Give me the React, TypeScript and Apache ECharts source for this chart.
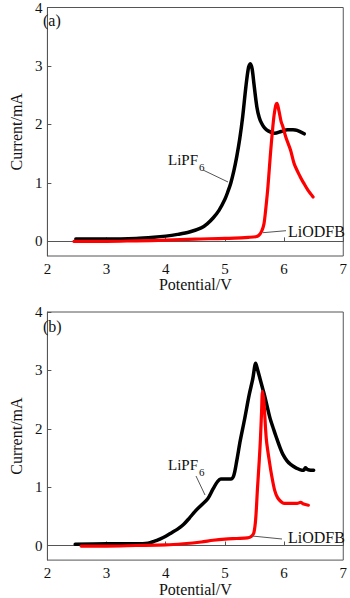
import React, { useEffect, useRef } from "react";
import * as echarts from "echarts";

// Panel (a): [Potential/V, Current/mA]
const aLiPF6: [number, number][] = [
  [2.48, 0.04], [3.0, 0.04], [3.5, 0.05], [3.8, 0.07], [4.0, 0.09], [4.2, 0.12], [4.4, 0.16],
  [4.6, 0.23], [4.7, 0.3], [4.8, 0.4], [4.9, 0.53], [5.0, 0.72], [5.05, 0.85], [5.1, 1.0],
  [5.15, 1.2], [5.2, 1.45], [5.25, 1.75], [5.3, 2.13], [5.355, 2.65], [5.4, 2.98], [5.43, 3.04],
  [5.46, 2.95], [5.49, 2.7], [5.54, 2.3], [5.58, 2.12], [5.62, 2.02], [5.67, 1.94], [5.73, 1.89],
  [5.84, 1.85], [5.95, 1.88], [6.06, 1.91], [6.15, 1.91], [6.22, 1.9], [6.34, 1.84],
];
const aLiODFB: [number, number][] = [
  [2.45, 0.0], [3.0, 0.0], [3.5, 0.01], [4.0, 0.02], [4.5, 0.04], [5.0, 0.05], [5.4, 0.07],
  [5.52, 0.08], [5.57, 0.1], [5.62, 0.17], [5.66, 0.3], [5.69, 0.55], [5.72, 0.85], [5.74, 1.1],
  [5.77, 1.5], [5.8, 1.85], [5.83, 2.15], [5.86, 2.33], [5.88, 2.36], [5.91, 2.25], [5.95, 2.05],
  [5.98, 1.96], [6.03, 1.78], [6.11, 1.56], [6.17, 1.33], [6.27, 1.11], [6.33, 1.0], [6.4, 0.88],
  [6.49, 0.76],
];

// Panel (b)
const bLiPF6: [number, number][] = [
  [2.47, 0.02], [3.0, 0.03], [3.5, 0.03], [3.7, 0.04], [3.8, 0.07], [3.9, 0.11], [4.0, 0.16],
  [4.1, 0.22], [4.2, 0.28], [4.3, 0.36], [4.4, 0.47], [4.5, 0.59], [4.6, 0.69], [4.71, 0.8],
  [4.8, 0.97], [4.88, 1.1], [4.93, 1.14], [5.0, 1.14], [5.1, 1.14], [5.15, 1.2], [5.2, 1.45],
  [5.26, 1.8], [5.33, 2.15], [5.41, 2.58], [5.47, 2.85], [5.52, 3.12], [5.55, 3.02], [5.59, 2.87],
  [5.64, 2.68], [5.68, 2.53], [5.76, 2.19], [5.82, 2.0], [5.87, 1.85], [5.93, 1.68], [5.98, 1.56],
  [6.05, 1.45], [6.11, 1.39], [6.2, 1.33], [6.3, 1.29], [6.33, 1.29], [6.36, 1.33], [6.4, 1.3],
  [6.45, 1.29], [6.5, 1.29],
];
const bLiODFB: [number, number][] = [
  [2.57, -0.01], [3.0, -0.01], [3.5, 0.0], [4.0, 0.01], [4.3, 0.03], [4.6, 0.06], [4.8, 0.09],
  [5.0, 0.11], [5.2, 0.12], [5.38, 0.13], [5.45, 0.16], [5.49, 0.22], [5.52, 0.45], [5.55, 0.97],
  [5.58, 1.45], [5.6, 1.82], [5.62, 2.3], [5.635, 2.64], [5.66, 2.45], [5.7, 1.82], [5.75, 1.45],
  [5.79, 1.2], [5.84, 0.95], [5.89, 0.82], [5.95, 0.75], [6.0, 0.72], [6.1, 0.72], [6.22, 0.72],
  [6.28, 0.74], [6.33, 0.71], [6.41, 0.69],
];

const yTicks = [0, 1, 2, 3, 4];
const panelLabels = ["(a)", "(b)"];
const xName = "Potential/V";
const yName = "Current/mA";

const FONT = "'Liberation Serif', 'DejaVu Serif', serif";
const AX = "#555";

export default function App() {
  const ref = useRef<HTMLDivElement>(null);
  useEffect(() => {
    if (!ref.current) return;
    const chart = echarts.init(ref.current, null, { renderer: "svg" });
    const grids = [
      { left: 36, top: 7, width: 309, height: 249 },
      { left: 36, top: 312, width: 309, height: 250 },
    ];
    const xAxis = grids.map((_, i) => ({
      type: "value",
      gridIndex: i,
      min: 2,
      max: 7,
      interval: 1,
      name: xName,
      nameLocation: "middle",
      nameGap: 8,
      nameTextStyle: { fontFamily: FONT, fontSize: 16, color: "#111", verticalAlign: "top" },
      axisLine: { show: true, lineStyle: { color: AX, width: 1 } },
      axisTick: { show: true, inside: true, length: 4, lineStyle: { color: AX } },
      axisLabel: { fontFamily: FONT, fontSize: 15, color: "#111", margin: 5 },
      splitLine: { show: false },
    }));
    const yAxis = grids.map((_, i) => ({
      type: "value",
      gridIndex: i,
      min: -0.25,
      max: 4,
      name: yName,
      nameLocation: "middle",
      nameGap: 21,
      nameRotate: 90,
      nameTextStyle: { fontFamily: FONT, fontSize: 16, color: "#111" },
      axisLine: { show: true, lineStyle: { color: AX, width: 1 } },
      axisTick: { show: true, inside: true, length: 4, customValues: yTicks, lineStyle: { color: AX } },
      axisLabel: { fontFamily: FONT, fontSize: 15, color: "#111", margin: 5, customValues: yTicks },
      splitLine: { show: false },
    }));
    const mk = (data: [number, number][], i: number, color: string, w: number) => ({
      type: "line",
      xAxisIndex: i,
      yAxisIndex: i,
      data,
      showSymbol: false,
      smooth: 0.3,
      lineStyle: { color, width: w, cap: "round", join: "round" },
      z: color === "#000" ? 2 : 3,
    });
    const txt = (x: number, y: number, text: string, size: number, align = "left") => ({
      type: "text",
      x,
      y,
      style: { text, fontFamily: FONT, fontSize: size, fill: "#111", align, verticalAlign: "middle" },
      z: 10,
    });
    const ln = (x1: number, y1: number, x2: number, y2: number) => ({
      type: "line",
      shape: { x1, y1, x2, y2 },
      style: { stroke: "#555", lineWidth: 1 },
      z: 10,
    });
    chart.setOption({
      animation: false,
      textStyle: { fontFamily: FONT },
      grid: grids.map((g) => ({ ...g, show: true, borderColor: AX, borderWidth: 1, backgroundColor: "transparent" })),
      xAxis,
      yAxis,
      series: [
        mk(aLiPF6, 0, "#000", 3.5),
        mk(aLiODFB, 0, "#ff0000", 3.2),
        mk(bLiPF6, 1, "#000", 3.5),
        mk(bLiODFB, 1, "#ff0000", 3.2),
      ],
      graphic: [
        txt(43, 20, panelLabels[0], 16),
        txt(43, 326, panelLabels[1], 16),
        txt(198, 160, "LiPF", 15, "right"),
        txt(199, 167, "6", 11),
        ln(203, 170, 228, 182),
        txt(288, 231.5, "LiODFB", 16),
        ln(263, 232.7, 286, 230.7),
        txt(198, 465, "LiPF", 15, "right"),
        txt(199, 472, "6", 11),
        ln(196, 476, 205, 495),
        txt(288, 537.5, "LiODFB", 16),
        ln(252, 536, 282, 539),
      ],
    });
    return () => chart.dispose();
  }, []);
  return (
    <div
      ref={ref}
      style={{ position: "fixed", left: 0, top: 0, width: 350, height: 598, background: "#fff" }}
    />
  );
}
